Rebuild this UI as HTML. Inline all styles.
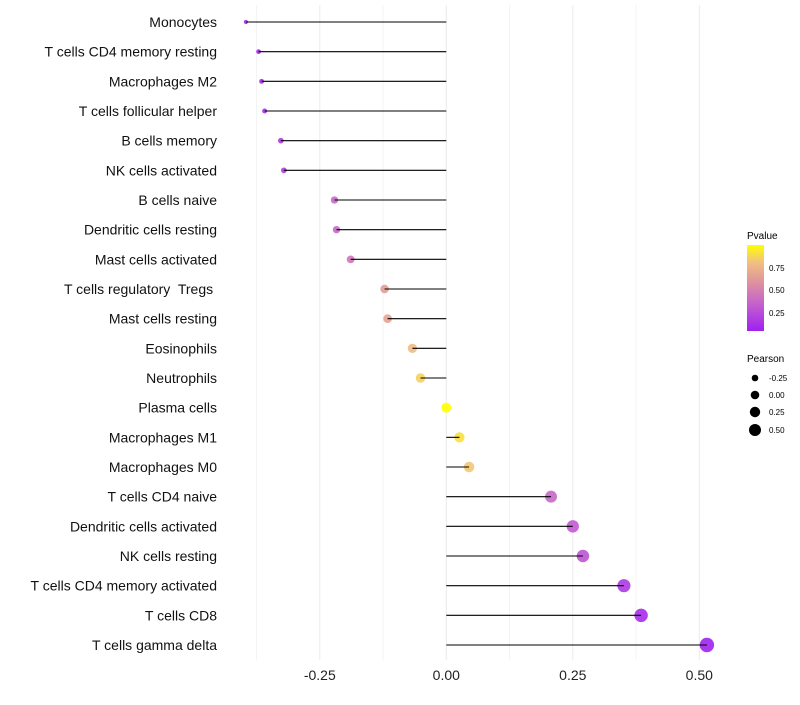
<!DOCTYPE html>
<html><head><meta charset="utf-8"><style>
body{margin:0;background:#fff;font-family:"Liberation Sans",sans-serif}
svg text{font-family:"Liberation Sans",sans-serif;white-space:pre}
</style></head><body>
<svg width="800" height="700" xmlns="http://www.w3.org/2000/svg">
<defs><linearGradient id="pg" x1="0" y1="1" x2="0" y2="0">
<stop offset="0" stop-color="#a020f0"/><stop offset="0.3" stop-color="#c35ed0"/><stop offset="0.55" stop-color="#dc8fa0"/><stop offset="0.8" stop-color="#f2c080"/><stop offset="1" stop-color="#ffff00"/></linearGradient></defs>
<g id="grid"></g>
<g id="marks"></g>
<g id="labels"></g>
<g id="xt"></g>
<g>
<text x="747" y="239" font-size="10">Pvalue</text>
<rect x="747" y="245" width="17" height="86" fill="url(#pg)"/>
<text x="769" y="271" font-size="8">0.75</text>
<text x="769" y="293" font-size="8">0.50</text>
<text x="769" y="316" font-size="8">0.25</text>
</g>
<g>
<text x="747" y="362" font-size="10">Pearson</text>
<circle cx="755" cy="378" r="3.3"/><text x="769" y="381" font-size="8">-0.25</text>
<circle cx="755" cy="395" r="4.3"/><text x="769" y="398" font-size="8">0.00</text>
<circle cx="755" cy="412" r="5.2"/><text x="769" y="415" font-size="8">0.25</text>
<circle cx="755" cy="430" r="6"/><text x="769" y="433" font-size="8">0.50</text>
</g>
</svg>
<script>
const categories=["Monocytes","T cells CD4 memory resting","Macrophages M2","T cells follicular helper","B cells memory","NK cells activated","B cells naive","Dendritic cells resting","Mast cells activated","T cells regulatory  Tregs ","Mast cells resting","Eosinophils","Neutrophils","Plasma cells","Macrophages M1","Macrophages M0","T cells CD4 naive","Dendritic cells activated","NK cells resting","T cells CD4 memory activated","T cells CD8","T cells gamma delta"];
const pearson=[-0.396,-0.371,-0.365,-0.359,-0.327,-0.321,-0.221,-0.217,-0.189,-0.122,-0.116,-0.067,-0.051,0,0.026,0.045,0.207,0.25,0.27,0.351,0.385,0.515];
const pvalue=[0.05,0.05,0.06,0.07,0.12,0.13,0.35,0.35,0.42,0.62,0.65,0.78,0.85,1.0,0.9,0.82,0.35,0.28,0.25,0.12,0.07,0.01];
const xTicks=[-0.25,0,0.25,0.5];
const xTickLabels=["-0.25","0.00","0.25","0.50"];
const xMinor=[-0.375,-0.125,0.125,0.375];
const NS="http://www.w3.org/2000/svg";
const x=v=>446.3+v*506;
const y=i=>22+i*(623/21);
function col(p){const st=[[0,[160,32,240]],[0.3,[195,94,208]],[0.55,[220,143,160]],[0.8,[242,192,128]],[1,[255,255,0]]];
for(let k=1;k<st.length;k++){if(p<=st[k][0]){const a=st[k-1],b=st[k],t=(p-a[0])/(b[0]-a[0]);return "rgb("+a[1].map((c,j)=>Math.round(c+(b[1][j]-c)*t)).join(",")+")";}}return "rgb(255,255,0)";}
function mk(t,at,par){const e=document.createElementNS(NS,t);for(const k in at)e.setAttribute(k,at[k]);par.appendChild(e);return e;}
const G=document.getElementById("grid"),M=document.getElementById("marks"),L=document.getElementById("labels"),XT=document.getElementById("xt");
xMinor.forEach(v=>{const l=mk("line",{x1:x(v),x2:x(v),y1:5,y2:660,stroke:"#f4f4f4","stroke-width":1},G);

});
xTicks.forEach((v,i)=>{const l=mk("line",{x1:x(v),x2:x(v),y1:5,y2:660,stroke:"#ebebeb","stroke-width":1},G);


const t=mk("text",{x:x(v),y:680,"font-size":14,"text-anchor":"middle",fill:"#222"},XT);t.textContent=xTickLabels[i];

});
categories.forEach((c,i)=>{
const t=mk("text",{x:217,y:y(i)+5,"font-size":14,"text-anchor":"end",fill:"#111"},L);t.textContent=c;


const r=Math.sqrt(Math.max(3,25+52*pearson[i]));
const d=mk("circle",{cx:x(pearson[i]),cy:y(i),r:r,fill:col(pvalue[i]),"fill-opacity":0.9},M);


const s=mk("line",{x1:x(0),x2:x(pearson[i]),y1:y(i),y2:y(i),stroke:"#000","stroke-width":1.1},M);


});
</script>
</body></html>
